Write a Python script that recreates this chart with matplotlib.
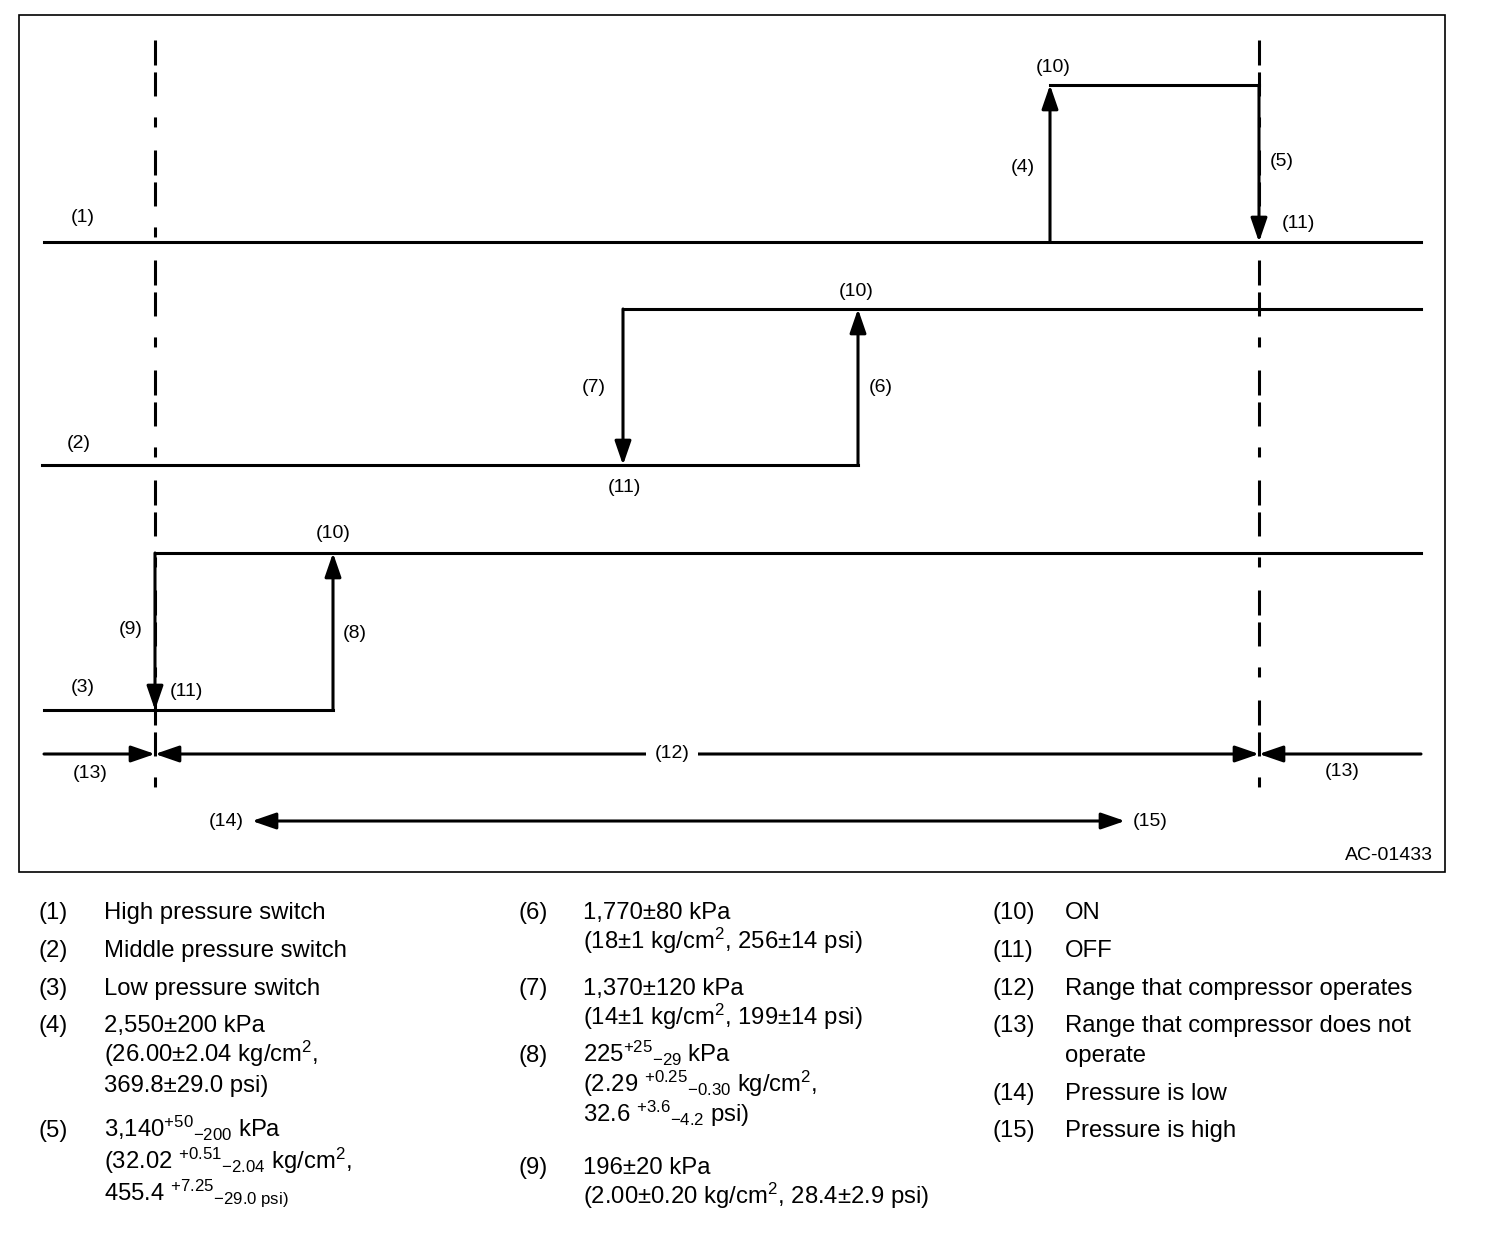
import matplotlib.pyplot as plt
from matplotlib.patches import Rectangle

plt.rcParams['font.family'] = ['Liberation Sans', 'DejaVu Sans']
plt.rcParams['mathtext.fontset'] = 'custom'
plt.rcParams['mathtext.rm'] = 'Liberation Sans'
plt.rcParams['mathtext.it'] = 'Liberation Sans'
plt.rcParams['mathtext.bf'] = 'Liberation Sans:bold'
plt.rcParams['mathtext.default'] = 'regular'
plt.rcParams['lines.scale_dashes'] = False

# ---- diagram data (diagram units = pixels of the original drawing) ----
switch_labels = ["(1)", "(2)", "(3)"]
label_pos = [(83, 217), (79, 443), (83, 687)]
off_y = [242, 465, 710]            # OFF level of each switch
on_y = [85, 309, 553]              # ON level of each switch
turn_on_x = [1050, 858, 333]       # pressure where switch turns ON
turn_off_x = [1259, 623, 155]      # pressure where switch turns OFF
off_spans = [[(44, 1421)], [(42, 858)], [(44, 333)]]
on_spans = [[(1050, 1259)], [(623, 1421)], [(155, 1421)]]

# numbers at arrows: (up arrow label, down arrow label)
up_labels = ["(4)", "(6)", "(8)"]
up_label_pos = [(1023, 168), (881, 387), (355, 634)]
down_labels = ["(5)", "(7)", "(9)"]
down_label_pos = [(1282, 162), (594, 388), (131, 629)]
on_label_pos = [(1053, 67), (856, 291), (333, 534)]
off_label_pos = [(1298, 224), (624, 487), (186, 692)]

limit_x = [155, 1259]              # compressor operating limits
limit_y = (40, 803)
range_y = 754
range_ends = (44, 1421)
pressure_arrow = (252, 1125, 821)

# ---- legend data ----
col1_nums = ["(1)", "(2)", "(3)", "(4)", "(5)"]
col1_text = [
    ["High pressure switch"],
    ["Middle pressure switch"],
    ["Low pressure switch"],
    ["2,550±200 kPa", "(26.00±2.04 kg/cm$^2$,", "369.8±29.0 psi)"],
    ["3,140$^{+50}$$_{-200}$ kPa",
     "(32.02 $^{+0.51}$$_{-2.04}$ kg/cm$^2$,",
     "455.4 $^{+7.25}$$_{-29.0\\ psi)}$"],
]
col1_y = [[912], [950], [988], [1025, 1055, 1085], [1130, 1162, 1193]]

col2_nums = ["(6)", "(7)", "(8)", "(9)"]
col2_text = [
    ["1,770±80 kPa", "(18±1 kg/cm$^2$, 256±14 psi)"],
    ["1,370±120 kPa", "(14±1 kg/cm$^2$, 199±14 psi)"],
    ["225$^{+25}$$_{-29}$ kPa",
     "(2.29 $^{+0.25}$$_{-0.30}$ kg/cm$^2$,",
     "32.6 $^{+3.6}$$_{-4.2}$ psi)"],
    ["196±20 kPa", "(2.00±0.20 kg/cm$^2$, 28.4±2.9 psi)"],
]
col2_y = [[912, 942], [988, 1018], [1055, 1085, 1115], [1167, 1197]]

col3_nums = ["(10)", "(11)", "(12)", "(13)", "(14)", "(15)"]
col3_text = [
    ["ON"], ["OFF"], ["Range that compressor operates"],
    ["Range that compressor does not", "operate"],
    ["Pressure is low"], ["Pressure is high"],
]
col3_y = [[912], [950], [988], [1025, 1055], [1093], [1130]]

col_x = [(39, 104), (519, 583), (992, 1065)]

fig = plt.figure(figsize=(15.04, 12.34), dpi=100)
ax = fig.add_axes([0, 0, 1, 1])
ax.set_xlim(0, 1504)
ax.set_ylim(1234, 0)
ax.axis('off')

LW = 2.2
FS = 14
LFS = 17.2
head = '-|>,head_length=1.45,head_width=0.5'

ax.add_patch(Rectangle((19, 15), 1426, 857, fill=False, lw=1.2, ec='black'))

# operating limits (chain lines)
for x in limit_x:
    ax.plot([x, x], limit_y, color='black', lw=LW,
            linestyle=(0, (18, 5, 17.3, 15.1, 7.2, 16.6)), solid_capstyle='butt')

# switch step lines
for i in range(3):
    for a, b in off_spans[i]:
        ax.plot([a, b], [off_y[i], off_y[i]], color='black', lw=LW,
                solid_capstyle='projecting')
    for a, b in on_spans[i]:
        ax.plot([a, b], [on_y[i], on_y[i]], color='black', lw=LW,
                solid_capstyle='projecting')
    ax.annotate('', xy=(turn_on_x[i], on_y[i]), xytext=(turn_on_x[i], off_y[i]),
                arrowprops=dict(arrowstyle=head, mutation_scale=10, lw=LW,
                                color='black', shrinkA=0, shrinkB=0))
    ax.annotate('', xy=(turn_off_x[i], off_y[i]), xytext=(turn_off_x[i], on_y[i]),
                arrowprops=dict(arrowstyle=head, mutation_scale=10, lw=LW,
                                color='black', shrinkA=0, shrinkB=0))
    ax.text(*label_pos[i], switch_labels[i], fontsize=FS, ha='center', va='center')
    ax.text(*up_label_pos[i], up_labels[i], fontsize=FS, ha='center', va='center')
    ax.text(*down_label_pos[i], down_labels[i], fontsize=FS, ha='center', va='center')
    ax.text(*on_label_pos[i], "(10)", fontsize=FS, ha='center', va='center')
    ax.text(*off_label_pos[i], "(11)", fontsize=FS, ha='center', va='center')

# compressor range line
arr = dict(mutation_scale=10, lw=LW, color='black', shrinkA=0, shrinkB=0)
ax.annotate('', xy=(limit_x[0], range_y), xytext=(range_ends[0], range_y),
            arrowprops=dict(arrowstyle=head, **arr))
ax.annotate('', xy=(limit_x[1], range_y), xytext=(range_ends[1], range_y),
            arrowprops=dict(arrowstyle=head, **arr))
ax.annotate('', xy=(limit_x[1], range_y), xytext=(limit_x[0], range_y),
            arrowprops=dict(arrowstyle='<|-|>,head_length=1.45,head_width=0.5', **arr))
ax.text(672, range_y, "(12)", fontsize=FS, ha='center', va='center',
        bbox=dict(fc='white', ec='none', pad=6))
ax.text(90, 773, "(13)", fontsize=FS, ha='center', va='center')
ax.text(1342, 771, "(13)", fontsize=FS, ha='center', va='center')

# pressure direction
x0, x1, py = pressure_arrow
ax.annotate('', xy=(x1, py), xytext=(x0, py),
            arrowprops=dict(arrowstyle='<|-|>,head_length=1.45,head_width=0.5', **arr))
ax.text(x0 - 8, py, "(14)", fontsize=FS, ha='right', va='center')
ax.text(x1 + 8, py, "(15)", fontsize=FS, ha='left', va='center')

ax.text(1433, 855, "AC-01433", fontsize=FS, ha='right', va='center')

# legend
for (nx, tx), nums, texts, ys in [(col_x[0], col1_nums, col1_text, col1_y),
                                  (col_x[1], col2_nums, col2_text, col2_y),
                                  (col_x[2], col3_nums, col3_text, col3_y)]:
    for num, lines, yy in zip(nums, texts, ys):
        ax.text(nx, yy[0] + 7, num, fontsize=LFS, ha='left', va='baseline')
        for line, y in zip(lines, yy):
            ax.text(tx, y + 7, line, fontsize=LFS, ha='left', va='baseline')

fig.savefig('out.png', dpi=100)
